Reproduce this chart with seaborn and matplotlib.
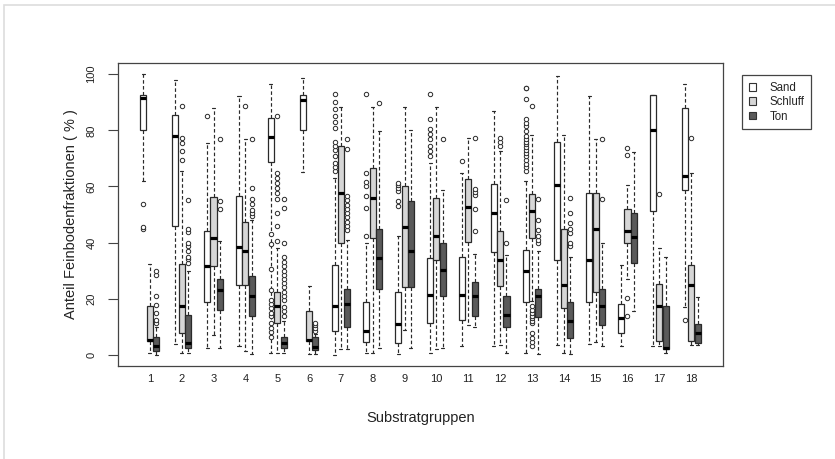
import numpy as np
import pandas as pd
import matplotlib
matplotlib.use("Agg")
import matplotlib.pyplot as plt
import seaborn as sns
from matplotlib.patches import Patch, Rectangle

# ---------------- data ----------------
groups = [str(i) for i in range(1, 19)]
components = ["Sand", "Schluff", "Ton"]

# five-number summaries per group: (lower whisker, Q1, median, Q3, upper whisker)
sand_stats = [
    (62, 80, 91.5, 92.5, 100), (4, 46, 78, 85.5, 98), (2.5, 18.7, 31.5, 44, 75.6),
    (3, 25, 38.5, 56.5, 92.3), (0.6, 68.7, 77.6, 84.5, 96.4), (65, 80, 90.8, 92.7, 98.8),
    (0, 8.3, 17.3, 32, 63), (0.6, 4.4, 8.3, 18.8, 40), (0.4, 4.2, 11, 22.3, 42.3),
    (0.6, 11.3, 21.2, 34.5, 68.5), (3, 12.3, 21.2, 34.9, 64.9), (3.2, 36.5, 50.6, 60.7, 86.9),
    (0.8, 18.8, 30, 37.2, 62), (3.6, 33.9, 60.5, 76, 99.3), (3.9, 18.8, 33.9, 57.5, 92.3),
    (3, 7.7, 13.1, 18.2, 32.1), (3, 51.2, 80, 92.5, 92.5), (17, 58.7, 63.7, 88.1, 96.4),
]
schluff_stats = [
    (0.6, 4.8, 5.2, 17.5, 32.4), (0.6, 7.7, 17.5, 32.4, 65.5), (7.1, 31.5, 41.7, 56.2, 88),
    (1.2, 25, 36.9, 47.3, 77), (0.6, 11.3, 17.3, 22.4, 38), (0.4, 4.8, 5.2, 15.6, 24.5),
    (2, 40, 57.5, 74.3, 88.3), (0.6, 41.8, 56, 66.5, 88.3), (8.9, 24, 45.6, 60.1, 88.5),
    (2, 33.7, 42.5, 56, 88.5), (10.7, 40.1, 52.7, 62.7, 77.4), (3.6, 24.6, 33.9, 44, 72.6),
    (19, 41.7, 51.2, 57.4, 78.2), (0.6, 16.8, 25, 44.8, 78.4), (4.4, 22.4, 45, 57.5, 77),
    (27, 39.9, 44.3, 51.8, 60.4), (3, 4.8, 17.3, 25.2, 38.1), (3.6, 4.8, 25, 32.1, 64.9),
]
ton_stats = [
    (0, 1.5, 3, 6.5, 10), (0.6, 2.4, 4.2, 14.3, 30), (2.4, 16.1, 23, 27.1, 40.7),
    (0.4, 13.7, 20.8, 28, 48.2), (0.6, 2.4, 4.2, 6.5, 12), (0.4, 1.8, 2.6, 6.2, 7.5),
    (2, 9.9, 18.2, 23.5, 41), (2.4, 23.5, 34.5, 45, 79.8), (2.4, 24, 37.1, 54.8, 80.1),
    (2.4, 20.8, 30.1, 39.9, 58.6), (9.9, 14, 20.8, 25.8, 36), (0.6, 9.8, 14.3, 20.8, 35.7),
    (0.4, 13.5, 20.8, 23.5, 37), (0.3, 6, 11.9, 18.7, 35), (3, 10.7, 17.3, 23.5, 39.9),
    (15.5, 32.7, 42, 50.6, 72.3), (0.6, 2, 2.4, 17.3, 34.9), (3.6, 4.2, 7.7, 11, 20.6),
]

# outliers per group number
sand_out = {
    1: [45, 45.5, 53.8], 3: [85],
    5: [6.5, 8, 9.5, 11.3, 13.7, 15, 16.5, 18, 19.6, 23.2, 30.7, 39.5, 42.9],
    7: [65.5, 67, 68.5, 71, 73, 74.5, 76, 81, 83, 85, 87.5, 90, 92.9],
    8: [42.3, 52.4, 56.5, 60, 61.5, 64.9, 92.9],
    9: [53, 54.8, 58.3, 59.5, 60.5, 61.3],
    10: [71, 72.5, 74.4, 76.8, 78.6, 80.4, 83.9, 92.9],
    11: [69],
    13: [65.5, 67, 68, 69.6, 71, 72, 73, 74, 75, 76, 77, 78, 79.8, 81.5, 82.7, 84.2, 91, 95, 95.2],
    18: [12.5],
}
schluff_out = {
    2: [69.6, 72.6, 75.6, 77.4, 88.7], 4: [88.7],
    5: [40.5, 45.8, 50.6, 55.4, 57.7, 59.5, 61.3, 63, 64.9, 85],
    12: [74.4, 76, 77.4],
    13: [3, 4.5, 6, 7.7, 11.3, 12, 13, 14, 15, 16, 17.3, 88.7],
    16: [13.7, 20.2, 71.1, 73.8], 17: [57.4], 18: [77.4],
}
ton_out = {
    1: [11.3, 12.5, 14.9, 17.9, 20.8, 28.6, 30],
    2: [32.7, 34, 35, 36.9, 38.7, 39.9, 43.7, 45, 55],
    3: [51.8, 54.8, 77],
    4: [49.5, 50.5, 51.5, 53.6, 55.4, 59.5, 77],
    5: [14, 15.5, 17, 19.6, 21, 22.5, 24, 25.5, 27, 28.5, 30, 31.5, 33, 35, 39.9, 52.4, 55.4],
    6: [8.5, 9.5, 10.5, 11.3],
    7: [44.6, 46, 47.5, 49, 50.5, 52, 53.5, 55, 56.5, 73.2, 77],
    8: [89.6], 10: [77],
    11: [44, 51.8, 57, 58, 59, 77.4],
    12: [40, 55],
    13: [39.9, 41, 42.3, 44.6, 48.2, 55.4],
    14: [38.7, 40, 43.5, 45, 47, 50.6, 56],
    15: [55.4, 77],
}

y_ticks = [0, 20, 40, 60, 80, 100]
colors = {"Sand": "#ffffff", "Schluff": "#d6d6d6", "Ton": "#5a5a5a"}

# ---------------- build tables ----------------
rows = []
for comp, stats in zip(components, [sand_stats, schluff_stats, ton_stats]):
    for g, five in zip(groups, stats):
        for v in five:
            rows.append((g, comp, v))
df = pd.DataFrame(rows, columns=["Gruppe", "Fraktion", "Wert"])

total_width = 0.6
step = total_width / len(components)
out_rows = []
for k, (comp, outs) in enumerate(zip(components, [sand_out, schluff_out, ton_out])):
    for g, vals in outs.items():
        for v in vals:
            out_rows.append((groups.index(str(g)) + (k - 1) * step, v))
out_df = pd.DataFrame(out_rows, columns=["x", "Wert"])

# ---------------- plot ----------------
sns.set_theme(style="white")
plt.rcParams["font.family"] = ["Liberation Sans", "DejaVu Sans"]

fig = plt.figure(figsize=(8.35, 4.59), dpi=100)
ax = fig.add_axes([0.1413, 0.2026, 0.7246, 0.6601])

sns.boxplot(
    data=df, x="Gruppe", y="Wert", hue="Fraktion", order=groups, hue_order=components,
    palette=colors, saturation=1, width=total_width, gap=0.05, whis=(0, 100),
    showfliers=False, linecolor="#2a2a2a", linewidth=0.9, legend=False,
    medianprops=dict(color="black", linewidth=2.3, solid_capstyle="butt"),
    whiskerprops=dict(linestyle=(0, (3, 2)), linewidth=0.85),
    capprops=dict(linewidth=0.85),
    ax=ax,
)

ax.scatter(out_df["x"], out_df["Wert"], s=10, facecolor="white", edgecolor="#2a2a2a",
           linewidth=0.7, zorder=5)

ax.set_xlim(-1.0, 18.0)
ax.set_ylim(-4, 104)
ax.set_yticks(y_ticks)
ax.set_yticklabels([str(t) for t in y_ticks], rotation=90, va="center", fontsize=8)
ax.tick_params(axis="y", left=True, length=7.5, width=0.8, color="#444444", pad=8,
               labelcolor="#222222")
ax.tick_params(axis="x", bottom=False, length=0, pad=6, labelsize=8, labelcolor="#222222")

ax.set_xlabel("Substratgruppen", fontsize=10.5, color="#222222")
ax.set_ylabel("Anteil Feinbodenfraktionen ( % )", fontsize=10.5, color="#222222")
ax.xaxis.set_label_coords(0.5, -0.148)
ax.yaxis.set_label_coords(-0.066, 0.5)

for sp in ax.spines.values():
    sp.set_visible(True)
    sp.set_color("#444444")
    sp.set_linewidth(0.9)

handles = [Patch(facecolor=colors[c], edgecolor="#333333", linewidth=0.8, label=c)
           for c in components]
leg = ax.legend(handles=handles, loc="upper left",
                bbox_to_anchor=(741.7 / 835, 1 - 75 / 459), bbox_transform=fig.transFigure,
                frameon=True, fancybox=False, fontsize=8.3, handlelength=0.6,
                handleheight=0.6, handletextpad=1.2, labelspacing=0.2, borderpad=0.6,
                borderaxespad=0)
leg.get_frame().set_edgecolor("#444444")
leg.get_frame().set_linewidth(0.9)
leg.get_frame().set_alpha(1)

fig.add_artist(Rectangle((4 / 835, -0.1), 1.2, 1 - 5 / 459 + 0.1, transform=fig.transFigure,
                         fill=False, edgecolor="#dddddd", linewidth=1.2))

fig.savefig("out.png", dpi=100)
